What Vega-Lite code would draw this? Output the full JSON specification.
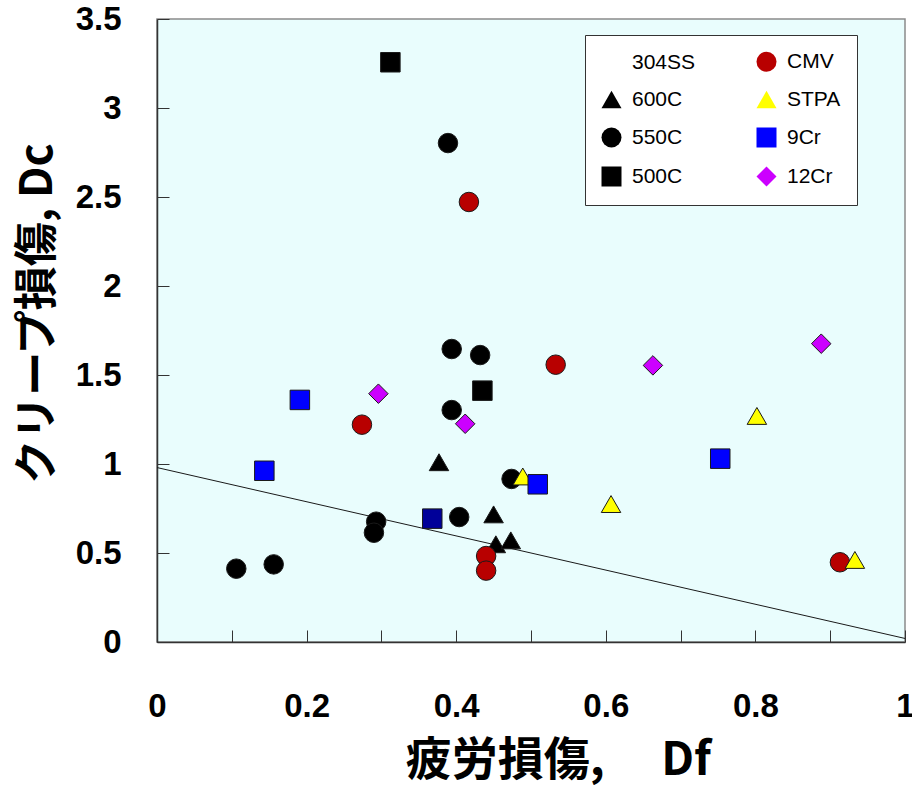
{
  "$schema": "https://vega.github.io/schema/vega-lite/v6.json",
  "autosize": {"type": "none"},
  "padding": {"left": 157, "top": 19, "right": 7, "bottom": 147},
  "width": 748,
  "height": 623,
  "background": "white",
  "view": {"fill": "#e9fdfd", "stroke": "#8a8a8a", "strokeWidth": 1.5},
  "datasets": {
    "points": [
      {"series": "550C", "df": 0.389, "dc": 2.803},
      {"series": "550C", "df": 0.394, "dc": 1.646},
      {"series": "550C", "df": 0.432, "dc": 1.612},
      {"series": "550C", "df": 0.394, "dc": 1.303},
      {"series": "550C", "df": 0.474, "dc": 0.916},
      {"series": "550C", "df": 0.404, "dc": 0.702},
      {"series": "550C", "df": 0.293, "dc": 0.676},
      {"series": "550C", "df": 0.290, "dc": 0.614},
      {"series": "550C", "df": 0.106, "dc": 0.412},
      {"series": "550C", "df": 0.156, "dc": 0.436},
      {"series": "500C", "df": 0.312, "dc": 3.257},
      {"series": "500C", "df": 0.435, "dc": 1.412},
      {"series": "600C", "df": 0.377, "dc": 1.010},
      {"series": "600C", "df": 0.450, "dc": 0.717},
      {"series": "600C", "df": 0.453, "dc": 0.549},
      {"series": "600C", "df": 0.473, "dc": 0.571},
      {"series": "CMV", "df": 0.274, "dc": 1.221},
      {"series": "CMV", "df": 0.440, "dc": 0.483},
      {"series": "CMV", "df": 0.440, "dc": 0.401},
      {"series": "CMV", "df": 0.417, "dc": 2.472},
      {"series": "CMV", "df": 0.533, "dc": 1.558},
      {"series": "CMV", "df": 0.913, "dc": 0.448},
      {"series": "STPA", "df": 0.489, "dc": 0.930},
      {"series": "STPA", "df": 0.607, "dc": 0.775},
      {"series": "STPA", "df": 0.802, "dc": 1.270},
      {"series": "STPA", "df": 0.933, "dc": 0.461},
      {"series": "9Cr", "df": 0.191, "dc": 1.360},
      {"series": "9Cr", "df": 0.1435, "dc": 0.962},
      {"series": "9Cr", "df": 0.509, "dc": 0.886},
      {"series": "9Cr", "df": 0.753, "dc": 1.030},
      {"series": "9Cr-b", "df": 0.368, "dc": 0.693},
      {"series": "12Cr", "df": 0.296, "dc": 1.395},
      {"series": "12Cr", "df": 0.412, "dc": 1.226},
      {"series": "12Cr", "df": 0.663, "dc": 1.554},
      {"series": "12Cr", "df": 0.888, "dc": 1.676}
    ],
    "limit": [
      {"df": 0, "dc": 0.98},
      {"df": 1, "dc": 0.02}
    ]
  },
  "layer": [
    {
      "data": {"name": "limit"},
      "mark": {"type": "line", "color": "#1a1a1a", "strokeWidth": 1},
      "encoding": {
        "x": {"field": "df", "type": "quantitative"},
        "y": {"field": "dc", "type": "quantitative"}
      }
    },
    {
      "data": {"name": "points"},
      "mark": {"type": "point", "filled": true, "opacity": 1, "stroke": "#1a1a1a", "strokeWidth": 1, "size": 380},
      "encoding": {
        "x": {
          "field": "df", "type": "quantitative",
          "scale": {"domain": [0, 1], "nice": false, "zero": false},
          "axis": {
            "values": [0, 0.1, 0.2, 0.3, 0.4, 0.5, 0.6, 0.7, 0.8, 0.9, 1],
            "labelExpr": "round(datum.value * 10) % 2 == 0 ? datum.label : ''",
            "format": "~g",
            "grid": false,
            "tickSize": -12,
            "tickColor": "#333",
            "domainColor": "#333",
            "domainWidth": 1.5,
            "labelFont": "Liberation Sans, sans-serif",
            "labelFontWeight": "bold",
            "labelFontSize": 33,
            "labelColor": "black",
            "labelPadding": 76,
            "labelBaseline": "middle",
            "labelFlush": false,
            "labelOverlap": false,
            "title": "疲労損傷,　 Df",
            "titleFont": "Noto Sans CJK JP, sans-serif",
            "titleFontWeight": "bold",
            "titleFontSize": 46,
            "titleColor": "black",
            "titleX": 401,
            "titleY": 118,
            "titleBaseline": "middle",
            "titleAlign": "center"
          }
        },
        "y": {
          "field": "dc", "type": "quantitative",
          "scale": {"domain": [0, 3.5], "nice": false, "zero": false},
          "axis": {
            "values": [0, 0.5, 1, 1.5, 2, 2.5, 3, 3.5],
            "format": "~g",
            "grid": false,
            "tickSize": -12,
            "tickColor": "#333",
            "domainColor": "#333",
            "domainWidth": 1.5,
            "labelFont": "Liberation Sans, sans-serif",
            "labelFontWeight": "bold",
            "labelFontSize": 33,
            "labelColor": "black",
            "labelPadding": 48,
            "labelFlush": false,
            "labelOverlap": false,
            "title": "クリープ損傷, Dc",
            "titleFont": "Noto Sans CJK JP, sans-serif",
            "titleFontWeight": "bold",
            "titleFontSize": 44,
            "titleColor": "black",
            "titleX": -119,
            "titleY": 294,
            "titleAngle": 270,
            "titleBaseline": "middle",
            "titleAlign": "center"
          }
        },
        "fill": {
          "field": "series", "type": "nominal",
          "scale": {
            "domain": ["304SS", "600C", "550C", "500C", "CMV", "STPA", "9Cr", "12Cr", "9Cr-b"],
            "range": ["transparent", "#000000", "#000000", "#000000", "#b80000", "#ffff00", "#0000ff", "#cc00ff", "#000099"]
          },
          "legend": {
            "values": ["304SS", "600C", "550C", "500C", "CMV", "STPA", "9Cr", "12Cr"],
            "title": null,
            "orient": "none",
            "legendX": 428,
            "legendY": 16,
            "columns": 2,
            "columnPadding": 58,
            "rowPadding": 14,
            "padding": 16,
            "fillColor": "white",
            "strokeColor": "#333",
            "symbolSize": 400,
            "symbolStrokeColor": "#1a1a1a",
            "symbolStrokeWidth": 1,
            "labelFont": "Liberation Sans, Arial, sans-serif",
            "labelFontSize": 21,
            "labelColor": "black",
            "labelOffset": 10,
            "labelExpr": "datum.label + '\u2003\u2003'"
          }
        },
        "shape": {
          "field": "series", "type": "nominal",
          "scale": {
            "domain": ["304SS", "600C", "550C", "500C", "CMV", "STPA", "9Cr", "12Cr", "9Cr-b"],
            "range": ["M0,0", "triangle-up", "circle", "square", "circle", "triangle-up", "square", "diamond", "square"]
          },
          "legend": {
            "values": ["304SS", "600C", "550C", "500C", "CMV", "STPA", "9Cr", "12Cr"],
            "title": null,
            "orient": "none",
            "legendX": 428,
            "legendY": 16,
            "columns": 2,
            "columnPadding": 58,
            "rowPadding": 14,
            "padding": 16,
            "fillColor": "white",
            "strokeColor": "#333",
            "symbolSize": 400,
            "symbolStrokeColor": "#1a1a1a",
            "symbolStrokeWidth": 1,
            "labelFont": "Liberation Sans, Arial, sans-serif",
            "labelFontSize": 21,
            "labelColor": "black",
            "labelOffset": 10,
            "labelExpr": "datum.label + '\u2003\u2003'"
          }
        }
      }
    }
  ]
}
